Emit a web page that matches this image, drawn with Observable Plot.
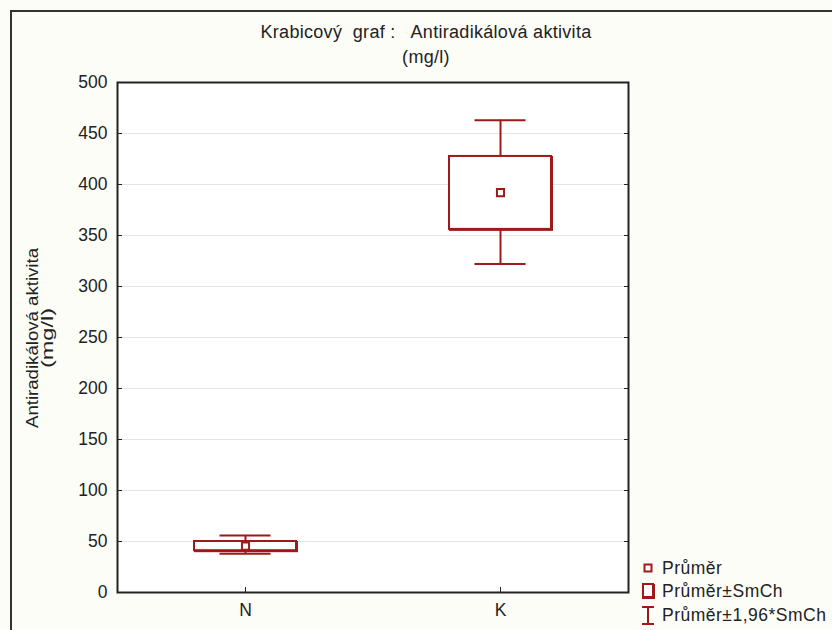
<!DOCTYPE html>
<html>
<head>
<meta charset="utf-8">
<script src="https://cdn.jsdelivr.net/npm/d3@7"></script>
<script src="https://cdn.jsdelivr.net/npm/@observablehq/plot@0.6"></script>
<style>
  html, body { margin: 0; padding: 0; background: #fdfdf8; }
  #wrap { position: relative; width: 832px; height: 630px; overflow: hidden; background: #fdfdf8; font-family: "Liberation Sans", Arial, sans-serif; color: #222; }
  #outer { position: absolute; left: 10px; top: 10px; width: 900px; height: 700px; border: 2px solid #333; box-sizing: border-box; }
  #chart { position: absolute; left: 0; top: 0; }
  .title { position: absolute; left: 0; width: 852px; text-align: center; font-size: 18px; letter-spacing: 0.3px; white-space: pre; }
  #legend { position: absolute; left: 638px; top: 558px; font-size: 17.5px; letter-spacing: 0.5px; }
  #legend .row { position: absolute; left: 0; height: 20px; white-space: nowrap; }
  #legend svg { position: absolute; left: 0; top: 0; }
  #legend span { position: absolute; left: 24px; top: 0; line-height: 20px; }
  #ylab { position: absolute; left: 0; top: 0; }
</style>
</head>
<body>
<div id="wrap">
  <div id="outer"></div>
  <div id="chart"></div>
  <div class="title" style="top:22px">Krabicový  graf :   Antiradikálová aktivita</div>
  <div class="title" style="top:47px">(mg/l)</div>
  <svg id="ylab" width="70" height="630"></svg>
  <div id="legend"></div>
</div>
<script>
const categories = ["N", "K"];
const means = [45.5, 392];
const boxLow = [41, 356];
const boxHigh = [50, 427.5];
const whiskerLow = [38, 322];
const whiskerHigh = [56, 463];
const yTicks = [0, 50, 100, 150, 200, 250, 300, 350, 400, 450, 500];
const yLabelLines = ["Antiradikálová aktivita", "(mg/l)"];
const legendLabels = ["Průměr", "Průměr±SmCh", "Průměr±1,96*SmCh"];

const color = "#9e1a1a";
const data = categories.map((c, i) => ({
  cat: c, mean: means[i], lo: boxLow[i], hi: boxHigh[i], wlo: whiskerLow[i], whi: whiskerHigh[i]
}));

const chart = Plot.plot({
  width: 832,
  height: 630,
  marginLeft: 117,
  marginTop: 82,
  marginRight: 204,
  marginBottom: 38,
  style: { background: "transparent", fontFamily: "Liberation Sans, Arial, sans-serif", fontSize: "17.5px", color: "#222" },
  x: { type: "band", domain: categories, paddingInner: 0.6, paddingOuter: 0.3, label: null },
  y: { domain: [0, 500], label: null },
  marks: [
    Plot.frame({ fill: "white", stroke: "none" }),
    Plot.gridY(yTicks, { stroke: "#e4e4e4", strokeOpacity: 1 }),
    Plot.axisY(yTicks, { anchor: "left", tickSize: -5, tickPadding: 15, fontSize: 17.5, fill: "#222", stroke: "#222", label: null }),
    Plot.axisY(yTicks, { anchor: "right", tickSize: -5, tickFormat: () => "", stroke: "#222", label: null }),
    Plot.axisX({ anchor: "bottom", tickSize: -5, tickPadding: 16, fontSize: 17.5, fill: "#222", stroke: "#222", label: null }),
    Plot.ruleX(data, { x: "cat", y1: "wlo", y2: "lo", stroke: color, strokeWidth: 2 }),
    Plot.ruleX(data, { x: "cat", y1: "hi", y2: "whi", stroke: color, strokeWidth: 2 }),
    Plot.tickY(data, { x: "cat", y: "wlo", stroke: color, strokeWidth: 2, insetLeft: 25.5, insetRight: 25.5 }),
    Plot.tickY(data, { x: "cat", y: "whi", stroke: color, strokeWidth: 2, insetLeft: 25.5, insetRight: 25.5 }),
    Plot.barY(data, { x: "cat", y1: "lo", y2: "hi", fill: color, stroke: color, strokeWidth: 2, dx: 1, dy: 1 }),
    Plot.barY(data, { x: "cat", y1: "lo", y2: "hi", fill: "white", stroke: color, strokeWidth: 2 }),
    Plot.dot(data, { x: "cat", y: "mean", symbol: "square", r: 4, stroke: color, strokeWidth: 2, fill: "white" }),
    Plot.frame({ stroke: "#222", strokeWidth: 2 })
  ]
});
document.getElementById("chart").appendChild(chart);

// y label (condensed, rotated)
const ylab = d3.select("#ylab");
yLabelLines.forEach((t, i) => {
  const x = i === 0 ? 38 : 53;
  ylab.append("text")
    .attr("transform", `translate(${x},338) rotate(-90)`)
    .attr("text-anchor", "middle")
    .attr("font-family", "Liberation Sans, Arial, sans-serif")
    .attr("font-size", 16)
    .attr("fill", "#222")
    .attr("textLength", i === 0 ? 180 : 60)
    .attr("lengthAdjust", "spacingAndGlyphs")
    .text(t);
});

// legend
const legend = d3.select("#legend");
const rows = [
  { top: 0, draw: s => s.append("rect").attr("x", 6.5).attr("y", 6.5).attr("width", 7).attr("height", 7).attr("fill", "white").attr("stroke", color).attr("stroke-width", 2) },
  { top: 23, draw: s => { s.append("rect").attr("x", 4).attr("y", 3).attr("width", 13).attr("height", 15).attr("fill", color); s.append("rect").attr("x", 5).attr("y", 3).attr("width", 10).attr("height", 13).attr("fill", "white").attr("stroke", color).attr("stroke-width", 2); } },
  { top: 47, draw: s => { const g = s.append("g").attr("stroke", color).attr("stroke-width", 2); g.append("line").attr("x1", 4).attr("x2", 16).attr("y1", 2).attr("y2", 2); g.append("line").attr("x1", 4).attr("x2", 16).attr("y1", 19).attr("y2", 19); g.append("line").attr("x1", 10).attr("x2", 10).attr("y1", 2).attr("y2", 19); } }
];
rows.forEach((r, i) => {
  const row = legend.append("div").attr("class", "row").style("top", r.top + "px");
  const s = row.append("svg").attr("width", 22).attr("height", 22);
  r.draw(s);
  row.append("span").text(legendLabels[i]);
});
</script>
</body>
</html>
